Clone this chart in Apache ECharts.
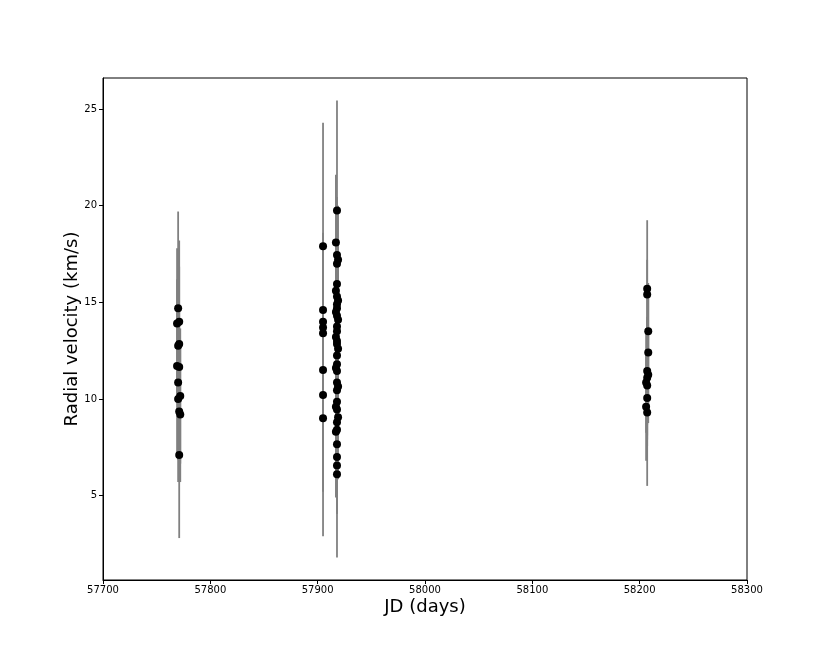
<!DOCTYPE html>
<html>
<head>
<meta charset="utf-8">
<script src="https://cdn.jsdelivr.net/npm/echarts@6/dist/echarts.min.js"></script>
<style>
  html, body { margin: 0; padding: 0; background: #fff; }
  #chart { width: 830px; height: 652px; }
</style>
</head>
<body>
<div id="chart"></div>
<script>
// observation epochs (JD - 2400000), radial velocity and its error
const jd = [
  57770, 57771, 57769, 57771, 57770, 57769, 57771, 57770, 57772, 57770, 57771, 57772, 57771,
  57905, 57905, 57905, 57905, 57905, 57905, 57905, 57905,
  57918, 57917, 57918, 57919, 57918, 57918, 57917, 57918, 57919, 57918, 57918, 57917, 57918, 57919,
  57918, 57918, 57917, 57918, 57918, 57919, 57918, 57918, 57917, 57918, 57918, 57919, 57918, 57918,
  57917, 57918, 57919, 57918, 57918, 57917, 57918, 57918, 57918, 57918,
  58207, 58207, 58208, 58208, 58207, 58208, 58207, 58206, 58207, 58207, 58206, 58207
];
const rv = [
  14.7, 14.0, 13.9, 12.85, 12.75, 11.7, 11.65, 10.85, 10.15, 10.0, 9.35, 9.2, 7.1,
  17.9, 14.6, 14.0, 13.7, 13.4, 11.5, 10.2, 9.0,
  19.75, 18.1, 17.45, 17.2, 17.0, 15.95, 15.6, 15.3, 15.1, 14.9, 14.7, 14.5, 14.3, 14.1,
  13.75, 13.5, 13.2, 13.0, 12.85, 12.6, 12.25, 11.8, 11.6, 11.45, 10.85, 10.65, 10.45, 9.85,
  9.6, 9.45, 9.05, 8.8, 8.4, 8.3, 7.65, 7.0, 6.55, 6.1,
  15.7, 15.4, 13.5, 12.4, 11.45, 11.25, 11.1, 10.85, 10.7, 10.05, 9.6, 9.3
];
const rvErr = [
  5.0, 4.2, 3.9, 4.0, 3.5, 4.5, 3.2, 4.0, 3.5, 4.3, 3.0, 3.5, 4.3,
  6.4, 4.0, 3.5, 3.0, 4.5, 4.0, 5.0, 6.1,
  5.7, 3.5, 3.0, 2.8, 3.2, 3.0, 2.5, 3.0, 2.8, 3.2, 2.6, 3.0, 2.8, 3.0,
  3.2, 2.8, 3.0, 2.6, 3.0, 2.8, 3.0, 3.2, 2.8, 3.0, 3.0, 2.8, 3.2, 3.0,
  2.8, 3.0, 3.2, 2.8, 3.0, 3.4, 3.2, 2.9, 2.5, 4.3,
  3.55, 1.8, 2.5, 3.0, 2.8, 2.5, 3.0, 2.6, 2.8, 2.5, 2.8, 3.8
];
const yTicks = [5, 10, 15, 20, 25];

const points = jd.map((d, i) => [d, rv[i], rvErr[i]]);

const chart = echarts.init(document.getElementById('chart'));

const option = {
  animation: false,
  textStyle: { fontFamily: 'DejaVu Sans' },
  grid: {
    left: 103,
    right: 83,
    top: 78,
    bottom: 72,
    show: true,
    borderColor: '#000',
    borderWidth: 1,
    backgroundColor: 'transparent'
  },
  xAxis: {
    type: 'value',
    min: 57700,
    max: 58300,
    interval: 100,
    name: 'JD (days)',
    nameLocation: 'middle',
    nameGap: 18,
    nameMoveOverlap: false,
    nameTextStyle: { fontSize: 18, color: '#000', fontFamily: 'DejaVu Sans' },
    axisLine: { show: true, onZero: false, lineStyle: { color: '#000', width: 1 } },
    axisTick: { show: true, inside: false, length: 4, lineStyle: { color: '#000' } },
    axisLabel: { color: '#000', fontSize: 10, margin: 5, formatter: v => String(v) },
    splitLine: { show: false }
  },
  yAxis: {
    type: 'value',
    min: 0.63,
    max: 26.61,
    name: 'Radial velocity (km/s)',
    nameLocation: 'middle',
    nameGap: 22,
    nameMoveOverlap: false,
    nameTextStyle: { fontSize: 18, color: '#000', fontFamily: 'DejaVu Sans' },
    axisLine: { show: true, onZero: false, lineStyle: { color: '#000', width: 1 } },
    axisTick: { show: true, inside: false, length: 4, customValues: yTicks, lineStyle: { color: '#000' } },
    axisLabel: { color: '#000', fontSize: 10, margin: 6, customValues: yTicks },
    splitLine: { show: false }
  },
  series: [
    {
      type: 'custom',
      data: points,
      encode: { x: 0, y: 1 },
      z: 1,
      renderItem: (params, api) => {
        const x = api.value(0);
        const y = api.value(1);
        const e = api.value(2);
        const top = api.coord([x, y + e]);
        const bot = api.coord([x, y - e]);
        return {
          type: 'line',
          shape: { x1: top[0], y1: top[1], x2: bot[0], y2: bot[1] },
          style: { stroke: '#808080', lineWidth: 1.8 }
        };
      }
    },
    {
      type: 'scatter',
      data: points.map(p => [p[0], p[1]]),
      symbol: 'circle',
      symbolSize: 8,
      z: 2,
      itemStyle: { color: '#000', opacity: 1 }
    }
  ]
};

chart.setOption(option);
</script>
</body>
</html>
